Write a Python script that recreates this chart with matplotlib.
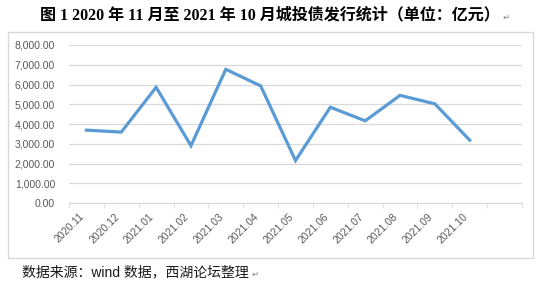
import matplotlib
matplotlib.use("Agg")
import matplotlib.pyplot as plt
from matplotlib.patches import Rectangle
from matplotlib.ticker import FuncFormatter, FixedLocator

months = ["2020.11", "2020.12", "2021.01", "2021.02", "2021.03", "2021.04",
          "2021.05", "2021.06", "2021.07", "2021.08", "2021.09", "2021.10"]
issuance = [3690, 3590, 5860, 2900, 6770, 5930,
            2150, 4850, 4160, 5450, 5020, 3180]
n_slots = 13  # excel leaves one empty category at the end

title = "图 1 2020 年 11 月至 2021 年 10 月城投债发行统计（单位：亿元）"
source = "数据来源：wind 数据，西湖论坛整理"

fig = plt.figure(figsize=(5.5, 2.9), dpi=100)
ax = fig.add_axes([69 / 550, 1 - 203 / 290, (522 - 69) / 550, (203 - 45) / 290])

x = list(range(len(months)))
ax.plot(x, issuance, color="#5B9BD5", linewidth=2.3, solid_joinstyle="miter")

ax.set_xlim(-0.5, n_slots - 0.5)
ax.set_ylim(0, 8000)
ax.set_yticks(range(0, 8001, 1000))
ax.yaxis.set_major_formatter(FuncFormatter(lambda v, p: f"{v:,.2f}"))
ax.grid(axis="y", color="#d9d9d9", linewidth=0.9)
ax.set_axisbelow(True)

ax.set_xticks(x)
ax.set_xticklabels(months, rotation=45, ha="right", va="top")
ax.xaxis.set_minor_locator(FixedLocator([i - 0.5 for i in range(n_slots + 1)]))
ax.tick_params(axis="x", which="major", length=0, pad=6)
ax.tick_params(axis="x", which="minor", length=3.5, color="#d9d9d9")
ax.tick_params(axis="y", length=0, pad=10)
for lab in ax.get_xticklabels() + ax.get_yticklabels():
    lab.set_fontfamily("Liberation Sans")
    lab.set_fontsize(7.5)
    lab.set_color("#595959")

for side in ["left", "right", "top"]:
    ax.spines[side].set_visible(False)
ax.spines["bottom"].set_color("#d9d9d9")

fig.patches.append(Rectangle((8 / 550, 1 - 258 / 290), 525 / 550, 226 / 290,
                             transform=fig.transFigure, fill=False,
                             edgecolor="#d9d9d9", linewidth=1.0))

t = fig.text(40 / 550, 1 - 15 / 290, title, ha="left", va="center",
             family=["Liberation Serif", "Noto Sans CJK SC"], weight="bold",
             fontsize=11.55, color="#000000")
s = fig.text(22 / 550, 1 - 272 / 290, source, ha="left", va="center",
             family=["Liberation Sans", "Noto Sans CJK SC"], fontsize=10,
             color="#1a1a1a")

fig.canvas.draw()
r = fig.canvas.get_renderer()
for txt in (t, s):
    bb = txt.get_window_extent(r)
    fig.text(bb.x1 / fig.bbox.width + 0.006, (bb.y0 + bb.height * 0.35) / fig.bbox.height,
             "↵", ha="left", va="center", family="DejaVu Sans", fontsize=6,
             color="#808080")

fig.savefig("out.png", dpi=100)
